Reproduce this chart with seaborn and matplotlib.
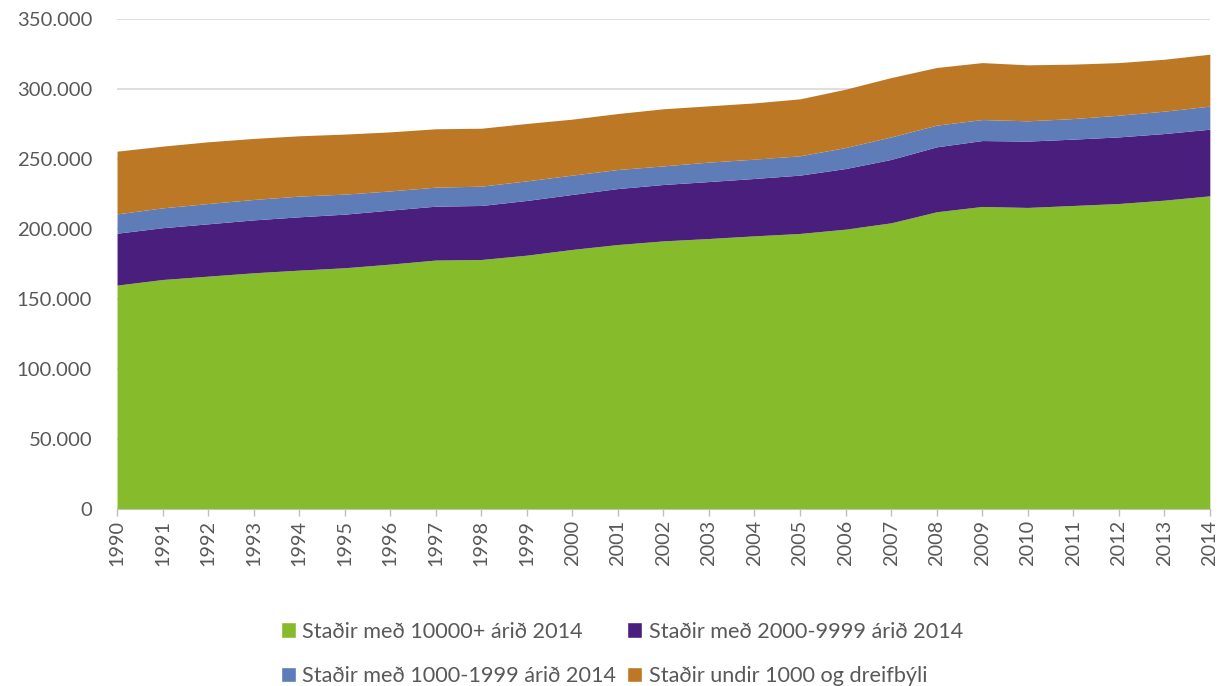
import matplotlib
matplotlib.use("Agg")
import matplotlib.pyplot as plt
from matplotlib.patches import Patch
from matplotlib.ticker import FuncFormatter
import seaborn as sns
import pandas as pd

####Data (thousands)
years = list(range(1990, 2015))
big = [160.0, 164.0, 166.4, 168.8, 170.7, 172.4, 175.0, 177.9, 178.3, 181.4,
       185.5, 189.0, 191.6, 193.3, 195.2, 196.9, 200.0, 204.5, 212.4, 216.2,
       215.5, 216.9, 218.3, 220.7, 223.8]
mid = [37.1, 37.0, 37.4, 37.8, 38.1, 38.3, 38.6, 38.5, 38.6, 39.1,
       39.3, 40.0, 40.3, 40.7, 41.0, 41.7, 43.3, 45.3, 46.4, 47.1,
       47.4, 47.4, 47.6, 47.6, 47.6]
small = [13.8, 14.2, 14.5, 14.6, 14.8, 14.3, 13.7, 13.6, 13.8, 14.0,
         13.8, 13.6, 13.3, 13.9, 13.8, 13.8, 15.0, 16.1, 15.5, 15.0,
         14.5, 14.7, 15.5, 16.0, 16.5]
rural = [44.8, 44.1, 44.1, 43.6, 43.1, 42.9, 42.2, 41.7, 41.4, 41.0,
         40.0, 40.0, 40.8, 40.2, 40.2, 40.7, 41.7, 42.4, 41.2, 40.7,
         40.0, 38.9, 37.6, 37.1, 37.1]
labels = ["Staðir með 10000+ árið 2014", "Staðir með 2000-9999 árið 2014",
          "Staðir með 1000-1999 árið 2014", "Staðir undir 1000 og dreifbýli"]
colors = ["#86BC2B", "#4A1E7D", "#5E7CB8", "#BC7824"]

df = pd.DataFrame({"year": years, labels[0]: big, labels[1]: mid,
                   labels[2]: small, labels[3]: rural}).set_index("year") * 1000

####Style
sns.set_style("white")
plt.rcParams['font.family'] = ['Lato', 'DejaVu Sans']
grey = "#595959"

fig = plt.figure(figsize=(12.32, 6.86), dpi=100)
ax = fig.add_axes([0.095, 0.258, 0.887, 0.714])

ax.stackplot(df.index, [df[c] for c in labels], colors=colors, linewidth=0, zorder=2)

ax.set_xlim(1990, 2014)
ax.set_ylim(0, 350000)
ax.set_yticks(range(0, 350001, 50000))
ax.yaxis.set_major_formatter(FuncFormatter(lambda v, p: f"{int(v):,}".replace(",", ".")))
ax.set_xticks(years)
ax.set_xticklabels([str(y) for y in years], rotation=90)
ax.grid(axis="y", color="#D9D9D9", linewidth=1.2, zorder=0)
sns.despine(ax=ax, left=True, top=True, right=True)
ax.spines["bottom"].set_color("#BFBFBF")
ax.tick_params(axis="x", colors=grey, labelsize=14.3, length=5, width=1,
               direction="out", bottom=True, color="#BFBFBF", pad=3)
ax.tick_params(axis="y", colors=grey, labelsize=14.6, length=0, pad=18)

####Legend
order = [0, 2, 1, 3]
handles = [Patch(facecolor=colors[i], label=labels[i]) for i in order]
leg = ax.legend(handles=handles, loc="upper center", bbox_to_anchor=(0.462, -0.19),
                ncol=2, frameon=False, fontsize=15.6, handlelength=0.7, handleheight=0.7,
                handletextpad=0.3, columnspacing=0.5, labelspacing=1.15)
for t in leg.get_texts():
    t.set_color(grey)

plt.savefig("out.png", dpi=100)
